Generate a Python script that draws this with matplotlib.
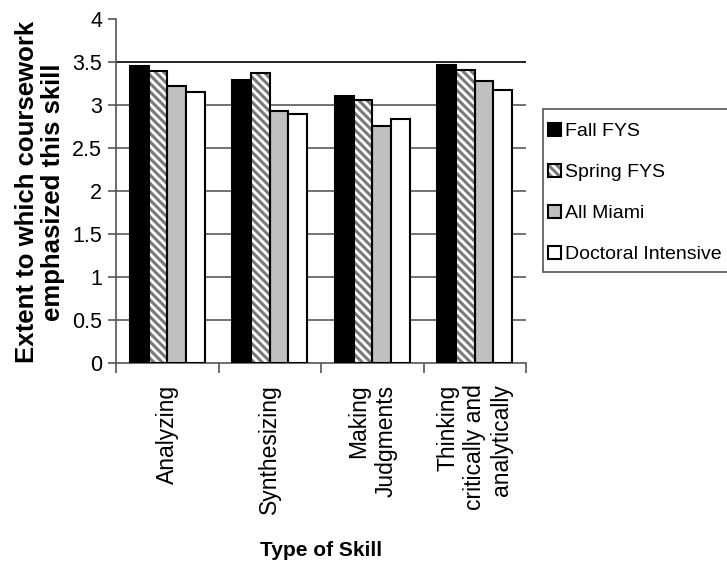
import matplotlib
matplotlib.use("Agg")
import matplotlib.pyplot as plt
import numpy as np
from matplotlib.legend_handler import HandlerTuple
from matplotlib.patches import Rectangle

categories = ["Analyzing", "Synthesizing", "Making\nJudgments", "Thinking\ncritically and\nanalytically"]
series_names = ["Fall FYS", "Spring FYS", "All Miami", "Doctoral Intensive"]
fall_fys = [3.45, 3.29, 3.11, 3.46]
spring_fys = [3.40, 3.37, 3.06, 3.41]
all_miami = [3.22, 2.93, 2.76, 3.28]
doctoral = [3.15, 2.90, 2.84, 3.17]
yticks = [0, 0.5, 1, 1.5, 2, 2.5, 3, 3.5, 4]

FONT = "Liberation Sans"
plt.rcParams["hatch.linewidth"] = 2.2

fig = plt.figure(figsize=(7.27, 5.65), dpi=100)
ax = fig.add_axes([116/727, 1-363/565, 410/727, 344/565])

x = np.arange(len(categories))
w = 0.182
offsets = [-1.5*w, -0.5*w, 0.5*w, 1.5*w]
data = [fall_fys, spring_fys, all_miami, doctoral]

handles = []
for i, vals in enumerate(data):
    pos = x + offsets[i]
    if i == 0:
        b = ax.bar(pos, vals, w, color="black", edgecolor="black", linewidth=1.5, zorder=3)
        handles.append(b)
    elif i == 1:
        h = ax.bar(pos, vals, w, color="white", edgecolor="#7a7a7a", hatch="\\\\\\\\", linewidth=0, zorder=3)
        o = ax.bar(pos, vals, w, fill=False, edgecolor="black", linewidth=1.5, zorder=4)
        handles.append((h, o))
    elif i == 2:
        b = ax.bar(pos, vals, w, color="#c0c0c0", edgecolor="black", linewidth=1.5, zorder=3)
        handles.append(b)
    else:
        b = ax.bar(pos, vals, w, color="white", edgecolor="black", linewidth=1.5, zorder=3)
        handles.append(b)

ax.set_xlim(-0.5, len(categories) - 0.5)
ax.set_ylim(0, 4)
ax.set_yticks(yticks)
ax.set_yticklabels([f"{t:g}" for t in yticks], fontfamily=FONT, fontsize=15.5)
for t in yticks[1:-1]:
    ax.axhline(t, color="#000000" if t == 3.5 else "#5a5a5a", linewidth=1.2, zorder=1)

ax.set_xticks(np.arange(len(categories) + 1) - 0.5)
ax.set_xticklabels([])
for i, c in enumerate(categories):
    ax.text(i, -0.25, c, rotation=90, ha="center", va="top", multialignment="right",
            fontfamily=FONT, fontsize=16.5, linespacing=1.22)

ax.tick_params(axis="x", direction="out", length=7, width=1.2, color="#555555")
ax.tick_params(axis="y", direction="out", length=6, width=1.2, color="#555555", pad=4)
for s in ["top", "right"]:
    ax.spines[s].set_visible(False)
ax.spines["left"].set_color("#555555")
ax.spines["left"].set_linewidth(1.2)
ax.spines["bottom"].set_color("#555555")
ax.spines["bottom"].set_linewidth(1.2)

fig.text(40/727, 1-192/565, "Extent to which coursework\nemphasized this skill", rotation=90,
         ha="center", va="center", fontfamily=FONT, fontweight="bold",
         fontsize=18.5, linespacing=1.1)
fig.text(321/727, 1-550/565, "Type of Skill", ha="center", va="center",
         fontfamily=FONT, fontweight="bold", fontsize=15)

# legend frame (extends past the right edge, as in the reference)
fig.patches.append(Rectangle((543/727, 1-272/565), 200/727, 163/565, transform=fig.transFigure,
                             facecolor="white", edgecolor="#555555", linewidth=1.2, zorder=1))
leg = fig.legend(handles, series_names, loc="upper left", bbox_to_anchor=(548/727, 1-123/565),
                 handler_map={tuple: HandlerTuple(ndivide=1)},
                 prop={"family": FONT, "size": 14}, frameon=False,
                 handlelength=0.65, handleheight=0.65, handletextpad=0.2,
                 labelspacing=1.22, borderpad=0, borderaxespad=0)
leg.set_zorder(2)

fig.savefig("out.png", dpi=100)
